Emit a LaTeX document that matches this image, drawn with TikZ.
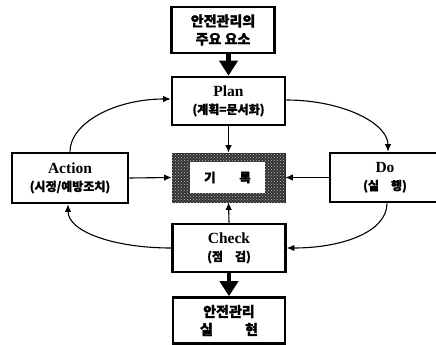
\documentclass[tikz,border=0pt]{standalone}
\usepackage{fontspec}
\setmainfont{Liberation Serif}
\newfontfamily\kr{Noto Sans CJK KR}[BoldFeatures={FakeBold=1.2}]
\usetikzlibrary{arrows.meta,patterns}
\newcommand\ttlfont{\bfseries\fontsize{15.5}{17}\selectfont}
\newcommand\subfont{\kr\bfseries\fontsize{12}{14}\selectfont}
\begin{document}
\begin{tikzpicture}[x=1pt,y=-1pt,
  box/.style={draw,line width=2.6pt,fill=white,minimum width=113pt,minimum height=48pt,
    align=center,inner sep=0pt,font=\fontsize{12}{17.5}\selectfont},
  krbox/.style={box,font=\kr\bfseries\fontsize{14}{18}\selectfont},
  conn/.style={line width=1.1pt,-{Latex[length=7.5pt,width=6.5pt]}},
  fat/.style={line width=4.8pt,-{Triangle[length=15pt,width=18pt]}},
  stipple/.style={draw=black!85,line width=0.8pt,fill=black!80,
    postaction={pattern=crosshatch dots,pattern color=white!75!black}}
]
\useasboundingbox (0,0) rectangle (436,345);
\clip (0,0) rectangle (436,345);

% main column
\node[krbox,minimum width=103pt,minimum height=46pt] (goal) at (223,30) {안전관리의\\주요 요소};
\node[box] (plan) at (228.5,101) {{\ttlfont Plan}\\{\subfont (계획=문서화)}};
\node[stipple,minimum width=113pt,minimum height=49pt,inner sep=0pt] (rec) at (228.5,177.5) {};
\node[fill=white,minimum width=75pt,minimum height=31pt,inner sep=0pt,
  font=\kr\bfseries\fontsize{12.5}{14}\selectfont] (rectxt) at (227.5,177.5) {기\hspace{1.9em}록};
\node[box] (check) at (229,248) {{\ttlfont Check}\\{\subfont (점\hspace{1em}검)}};
\node[krbox,minimum width=112pt,minimum height=46pt] (done) at (229,320.5) {안전관리\\실\hspace{2.3em}현};

% side boxes
\node[box,minimum width=116pt,minimum height=50pt] (act) at (70,178)
  {{\ttlfont Action}\\{\subfont (시정/예방조치)}};
\node[box,minimum width=110pt,minimum height=49pt] (do) at (385,177.5)
  {{\ttlfont Do}\\{\subfont (실\hspace{1em}행)}};

% heavy arrows along the column
\draw[fat] (goal.south -| plan.north) -- (plan.north);
\draw[fat] (check.south) -- (done.north);

% links into the record box
\draw[conn] (plan.south) -- (rec.north);
\draw[conn] (check.north) -- (rec.south);
\draw[conn] (act.east) -- (rec.west);
\draw[conn] (do.west) -- (rec.east);

% the PDCA cycle
\coordinate (pe) at ([yshift=1pt]plan.east);
\coordinate (pw) at ([yshift=2pt]plan.west);
\coordinate (dn) at ([xshift=3pt]do.north);
\coordinate (ds) at ([xshift=2pt]do.south);
\draw[conn] (pe) .. controls (342,100) and (388,123) .. (dn);
\draw[conn] (ds) .. controls (387,232) and (342,248) .. (check.east);
\draw[conn] (check.west) .. controls (115,248) and (68,232) .. ([xshift=-2pt]act.south);
\draw[conn] (act.north) .. controls (70,123) and (115,99) .. (pw);
\end{tikzpicture}
\end{document}
